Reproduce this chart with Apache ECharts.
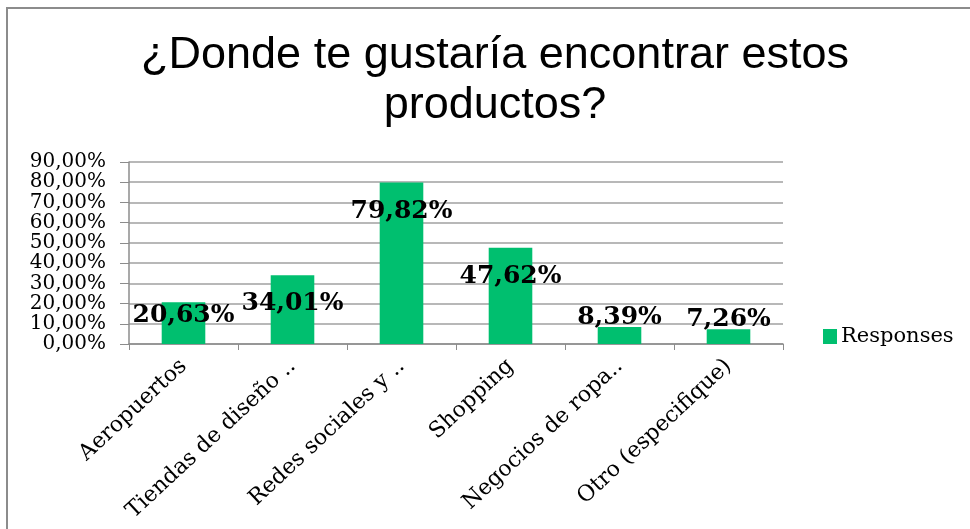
<!DOCTYPE html>
<html>
<head>
<meta charset="utf-8">
<script src="https://cdn.jsdelivr.net/npm/echarts@6/dist/echarts.min.js"></script>
<style>
html,body{margin:0;padding:0;background:#fff;}
#chart{width:970px;height:529px;}
</style>
</head>
<body>
<div id="chart"></div>
<script>
// ---- data ----
const titleLines = ['¿Donde te gustaría encontrar estos', 'productos?'];
const categories = ['Aeropuertos', 'Tiendas de diseño ..', 'Redes sociales y ..', 'Shopping', 'Negocios de ropa..', 'Otro (especifique)'];
const seriesName = 'Responses';
const values = [20.63, 34.01, 79.82, 47.62, 8.39, 7.26];
const yTicks = [0, 10, 20, 30, 40, 50, 60, 70, 80, 90];

const fmt = v => v.toFixed(2).replace('.', ',') + '%';
const serif = 'DejaVu Serif';

const chart = echarts.init(document.getElementById('chart'), null, {renderer: 'canvas'});

const barData = values.map(v => {
  let label;
  if (v >= 30) label = {position: 'insideTop', distance: 16};
  else if (v >= 15) label = {position: 'insideTop', distance: 1};
  else label = {position: 'top', distance: -3};
  return {value: v, label: label};
});

chart.setOption({
  animation: false,
  backgroundColor: '#ffffff',
  graphic: [
    {type: 'rect', shape: {x: 7, y: 8, width: 1100, height: 700}, style: {fill: 'none', stroke: '#8c8c8c', lineWidth: 2}, silent: true, z: 0},
    {type: 'text', x: 495, y: 56, style: {text: titleLines[0], font: '45px "Liberation Sans"', fill: '#000', align: 'center', verticalAlign: 'middle'}},
    {type: 'text', x: 495, y: 106, style: {text: titleLines[1], font: '45px "Liberation Sans"', fill: '#000', align: 'center', verticalAlign: 'middle'}}
  ],
  legend: {
    left: 818,
    top: 321,
    itemWidth: 14,
    itemHeight: 15,
    itemGap: 10,
    icon: 'rect',
    textStyle: {fontFamily: serif, fontSize: 21, color: '#000', padding: [0, 0, 0, -1]},
    data: [seriesName]
  },
  grid: {left: 129, right: 187, top: 162, bottom: 185, containLabel: false},
  xAxis: {
    type: 'category',
    data: categories,
    boundaryGap: true,
    axisLine: {show: true, lineStyle: {color: '#8c8c8c', width: 1.5}},
    axisTick: {show: true, length: 6, lineStyle: {color: '#8c8c8c'}},
    axisLabel: {rotate: 43, margin: 19, interval: 0, fontFamily: serif, fontSize: 22, color: '#000'}
  },
  yAxis: {
    type: 'value',
    min: yTicks[0],
    max: yTicks[yTicks.length - 1],
    interval: yTicks[1] - yTicks[0],
    axisLine: {show: true, lineStyle: {color: '#8c8c8c', width: 1.5}},
    axisTick: {show: true, length: 9, lineStyle: {color: '#8c8c8c'}},
    splitLine: {show: true, lineStyle: {color: '#a0a0a0', width: 1.5}},
    axisLabel: {margin: 23, fontFamily: serif, fontSize: 20, color: '#000', formatter: v => fmt(v)}
  },
  series: [{
    name: seriesName,
    type: 'bar',
    barWidth: '40%',
    itemStyle: {color: '#00bf6f'},
    label: {show: true, fontFamily: serif, fontWeight: 'bold', fontSize: 25, color: '#000', formatter: p => fmt(p.value)},
    data: barData
  }]
});
</script>
</body>
</html>
